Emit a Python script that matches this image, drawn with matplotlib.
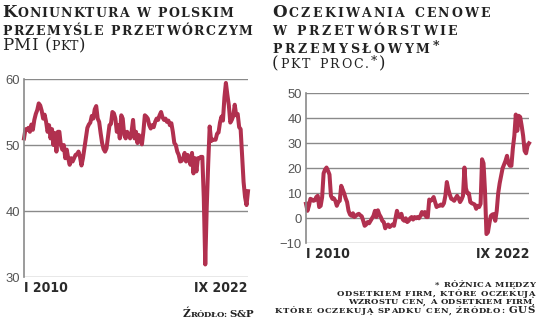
import numpy as np
import matplotlib
matplotlib.use('Agg')
from matplotlib import pyplot as plt
from matplotlib.font_manager import FontProperties
from matplotlib.transforms import IdentityTransform

# PMI dla przetworstwa w Polsce, miesiecznie I 2010 - IX 2022
pmi = [51.0, 52.4, 52.3, 52.6, 52.0, 53.1, 52.3, 53.8, 54.7, 55.3, 56.3, 56.0,
       55.2, 54.0, 54.6, 53.5, 52.0, 53.0, 51.0, 52.4, 50.0, 51.8, 49.0, 52.0,
       52.0, 50.0, 49.3, 50.0, 48.0, 49.3, 48.0, 47.0, 48.0, 47.5, 48.0, 48.5,
       48.6, 49.0, 48.2, 46.9, 48.0, 49.5, 51.0, 52.6, 53.1, 53.4, 54.4, 54.0,
       55.4, 55.9, 54.0, 53.5, 51.8, 50.3, 49.4, 49.0, 49.5, 51.2, 53.0, 53.2,
       55.0, 54.8, 54.0, 52.0, 53.0, 51.0, 54.5, 54.0, 51.5, 51.0, 52.0, 51.5,
       51.0, 52.0, 53.8, 51.0, 52.0, 50.3, 51.5, 51.0, 50.1, 52.0, 54.5, 54.3,
       54.0, 53.0, 52.5, 53.0, 52.7, 53.5, 54.0, 53.8, 54.5, 55.0, 54.2, 53.8,
       54.0, 53.5, 53.7, 53.0, 53.3, 52.0, 50.3, 50.0, 49.0, 48.5, 47.5, 47.6,
       48.0, 48.8, 47.5, 48.5, 48.0, 47.0, 48.8, 45.7, 48.0, 46.0, 48.0, 48.0,
       48.2, 48.2, 42.0, 31.9, 40.6, 47.2, 52.8, 50.6, 50.8, 50.8, 50.8, 51.7,
       51.9, 53.4, 54.3, 53.7, 57.2, 59.4, 57.6, 56.0, 53.4, 53.8, 54.4, 56.1,
       54.5, 54.7, 52.7, 52.4, 48.5, 44.4, 42.1, 40.9, 43.0]

# saldo oczekiwan cenowych (GUS), pkt proc.
ceny = [5.8, 3.0, 5.0, 7.8, 7.5, 7.0, 7.2, 8.5, 9.0, 4.5, 5.0, 8.5,
        18.0, 19.5, 20.3, 19.0, 17.5, 9.0, 7.8, 8.0, 7.0, 5.0, 6.5, 7.0,
        13.0, 11.5, 10.0, 8.0, 6.5, 3.0, 1.5, 1.0, 2.0, 0.5, 1.0, 1.5,
        1.8, 1.2, 0.8, -1.0, -3.0, -2.5, -1.5, -2.0, -1.0, 0.0, 1.0, 3.0,
        0.5, 3.2, 1.5, 0.5, -1.0, -1.5, -4.0, -3.0, -2.5, -3.5, -3.0, -2.5,
        -3.0, 0.0, 3.0, 1.0, 0.5, 1.8, -0.5, -1.0, 0.0, -1.5, -1.0, 0.0,
        0.5, -0.5, 0.5, 0.0, 0.5, 0.0, 1.0, 2.5, 1.5, 2.5, 0.5, 0.5,
        7.5, 7.0, 7.5, 8.5, 6.5, 4.5, 5.0, 5.0, 5.5, 5.0, 6.0, 9.0,
        14.5, 11.5, 9.5, 7.8, 7.5, 7.0, 8.0, 9.0, 8.0, 6.5, 7.5, 9.0,
        20.3, 12.0, 10.0, 10.0, 6.5, 6.0, 5.8, 5.5, 3.8, 5.0, 4.5, 5.8,
        23.6, 22.0, 11.0, -6.3, -5.6, -2.0, 1.0, 1.5, 1.7, -1.0, 3.0, 10.0,
        14.0, 17.0, 20.0, 21.5, 23.0, 25.0, 22.0, 21.0, 21.0, 28.0, 33.0, 41.5,
        35.0, 41.0, 40.5, 37.0, 33.0, 27.0, 26.0, 29.0, 30.0]

x_labels = ['I 2010', 'IX 2022']
pmi_ticks = [30, 40, 50, 60]
ceny_ticks = [-10, 0, 10, 20, 30, 40, 50]

LINE = '#b1304f'
GRID = '#8a8a8a'
INK = '#222222'

W, H = 536, 323
fig = plt.figure(figsize=(W / 100, H / 100), dpi=100)
renderer = fig.canvas.get_renderer()


def char_w(ch, fp):
    if ch == ' ':
        return fp.get_size_in_points() * 0.6
    w, h, d = renderer.get_text_width_height_descent(ch, fp, ismath=False)
    return w


def caps_line(x0, x1, y, pieces, weight='bold', color=INK):
    # pieces: (tekst, rozmiar[, uniesienie w px]); litery rozsuwane tak, by linia miala szerokosc x0..x1
    chars = []
    for p in pieces:
        txt, size = p[0], p[1]
        rise = p[2] if len(p) > 2 else 0
        fp = FontProperties(family='DejaVu Serif', weight=weight, size=size)
        for ch in txt:
            chars.append((ch, fp, rise, char_w(ch, fp)))
    natural = sum(c[3] for c in chars)
    track = (x1 - x0 - natural) / max(len(chars) - 1, 1)
    x = x0
    for ch, fp, rise, w in chars:
        if ch != ' ':
            fig.text(x, H - y + rise, ch, fontproperties=fp, color=color,
                     ha='left', va='baseline', transform=IdentityTransform())
        x += w + track


def style_axes(ax, ticks):
    ax.set_yticks(ticks)
    ax.set_ylim(ticks[0], ticks[-1])
    ax.set_xlim(0, len(pmi) - 1)
    ax.grid(axis='y', color=GRID, lw=1.0)
    ax.set_axisbelow(True)
    for s in ['top', 'right', 'bottom']:
        ax.spines[s].set_visible(False)
    ax.spines['left'].set_color(GRID)
    ax.spines['left'].set_linewidth(1.2)
    ax.tick_params(axis='y', length=0, pad=3, labelsize=9.4, labelcolor='#555555')
    ax.tick_params(axis='x', length=0, pad=3)
    for lab in ax.get_yticklabels():
        lab.set_fontfamily('Liberation Sans')
    ax.set_xticks([0, len(pmi) - 1])
    ax.set_xticklabels(x_labels, fontsize=10.0, color='#2a2a2a',
                       family='DejaVu Sans', fontstretch='condensed', weight='bold')
    labs = ax.get_xticklabels()
    labs[0].set_ha('left')
    labs[1].set_ha('right')


months = np.arange(len(pmi))

ax1 = fig.add_axes([24 / W, 1 - 277 / H, 224 / W, 198 / H])
ax1.plot(months, pmi, color=LINE, lw=2.9, solid_joinstyle='round', clip_on=False)
style_axes(ax1, pmi_ticks)

ax2 = fig.add_axes([306 / W, 1 - 243.3 / H, 223 / W, 150 / H])
ax2.plot(months, ceny, color=LINE, lw=2.9, solid_joinstyle='round', clip_on=False)
style_axes(ax2, ceny_ticks)

# tytuly kapitalikami
caps_line(2, 233, 17.3, [('K', 12.0), ('ONIUNKTURA W POLSKIM', 9.0)])
caps_line(2, 252, 35, [('PRZEMYŚLE PRZETWÓRCZYM', 9.0)])
caps_line(2, 85, 50, [('PMI (', 12.0), ('PKT', 9.0), (')', 12.0)], weight='normal')

caps_line(272, 490, 17, [('O', 12.0), ('CZEKIWANIA CENOWE', 9.0)])
caps_line(272, 457, 35, [('W PRZETWÓRSTWIE', 9.0)])
caps_line(272, 439, 52.7, [('PRZEMYSŁOWYM', 9.0), ('*', 9.0, 3)])
caps_line(272, 385, 68, [('(', 12.0), ('PKT PROC.', 9.0), ('*', 9.0, 3), (')', 12.0)],
          weight='normal')

# zrodla i objasnienia
caps_line(183, 253, 317, [('Ź', 7.6), ('RÓDŁO: ', 6.0), ('S&P', 7.4)])
caps_line(435, 535, 286.7, [('* RÓŻNICA MIĘDZY', 6.0)])
caps_line(337, 535, 296, [('ODSETKIEM FIRM, KTÓRE OCZEKUJĄ', 6.0)])
caps_line(348, 535, 304.3, [('WZROSTU CEN, A ODSETKIEM FIRM,', 6.0)])
caps_line(275, 535, 313.3, [('KTÓRE OCZEKUJĄ SPADKU CEN, ŹRÓDŁO: ', 6.0), ('GUS', 7.4)])

fig.savefig('out.png', dpi=100)
